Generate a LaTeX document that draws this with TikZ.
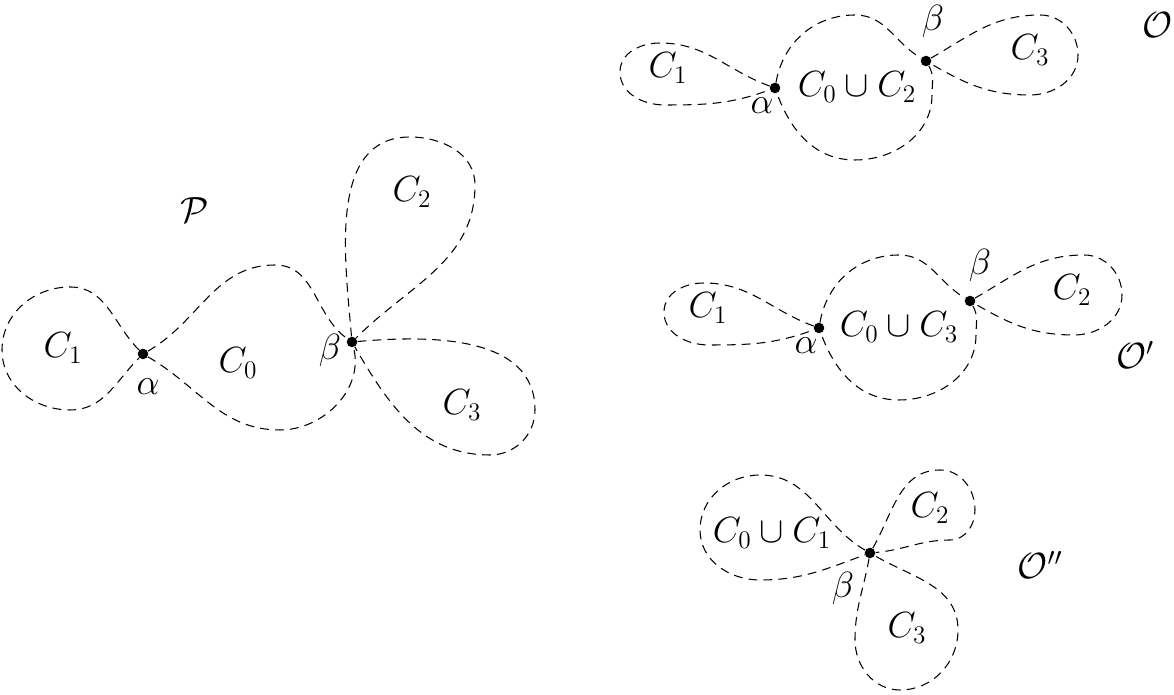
\documentclass[tikz,border=0pt]{standalone}
\usepackage{amssymb}
\begin{document}
\begin{tikzpicture}[x=0.02cm, y=0.02cm, font=\huge,
    pt/.style={circle, fill, inner sep=0pt, minimum size=6pt},
    loop/.style={dash pattern=on 5pt off 3.5pt, semithick}]
        \useasboundingbox (0,0) rectangle (1174,695);
        % P
        \node[pt] at (143,341) (a) {};
        \node[pt] at (352,353) (b) {};
        \draw[loop] (a) to[out=135,in=0] (70,408) to[out=180,in=90] (2,345) to[out=-90,in=180] (70,285) to[out=0,in=-135] (a);
        \draw[loop] (a) to[out=30,in=180] (275,430) to[out=0,in=145] (b);
        \draw[loop] (a) to[out=-30,in=180] (280,265) to[out=0,in=-75] (b);
        \draw[loop] (b) to[out=95,in=180] (410,558) to[out=0,in=90] (475,510) to[out=-90,in=45] (b);
        \draw[loop] (b) to[out=5,in=90] (535,285) to[out=-90,in=0] (490,240) to[out=180,in=-60] (b);
        \node at (63,347) (c1) {$C_1$};
        \node at (238,332) (c0) {$C_0$};
        \node at (412,503) (c2) {$C_2$};
        \node at (462,290) (c3) {$C_3$};
        \node at (195,485) (p) {$\mathcal{P}$};
        \node at (148,308) (al) {$\alpha$};
        \node at (330,345) (be) {$\beta$};

        % O
        \node[pt] at (775,607) (oa) {};
        \node[pt] at (926,634) (ob) {};
        \draw[loop] (oa) to[out=160,in=0] (660,652) to[out=180,in=90] (620,623) to[out=-90,in=180] (665,590) to[out=0,in=-160] (oa);
        \draw[loop] (oa) to[out=80,in=180] (855,680) to[out=0,in=150] (ob) to[out=-60,in=90] (932,600) to[out=-90,in=0] (855,535) to[out=180,in=-70] (oa);
        \draw[loop] (ob) to[out=30,in=180] (1040,680) to[out=0,in=90] (1078,640) to[out=-90,in=0] (1030,600) to[out=180,in=-30] (ob);
        \node at (668,627) (oc1) {$C_1$};
        \node at (857,608) (oc0) {$C_0\cup C_2$};
        \node at (1030,645) (oc3) {$C_3$};
        \node at (933,674) (obe) {$\beta$};
        \node at (762,589) (oal) {$\alpha$};
        \node at (1158,670) (o) {$\mathcal{O}$};

        % O'
        \begin{scope}[shift={(44,-240)}]
        \node[pt] at (775,607) (qa) {};
        \node[pt] at (926,634) (qb) {};
        \draw[loop] (qa) to[out=160,in=0] (660,652) to[out=180,in=90] (620,623) to[out=-90,in=180] (665,590) to[out=0,in=-160] (qa);
        \draw[loop] (qa) to[out=80,in=180] (855,680) to[out=0,in=150] (qb) to[out=-60,in=90] (932,600) to[out=-90,in=0] (855,535) to[out=180,in=-70] (qa);
        \draw[loop] (qb) to[out=30,in=180] (1040,680) to[out=0,in=90] (1078,640) to[out=-90,in=0] (1030,600) to[out=180,in=-30] (qb);
        \node at (664,627) (qc1) {$C_1$};
        \node at (855,608) (qc0) {$C_0\cup C_3$};
        \node at (1028,645) (qc2) {$C_2$};
        \node at (936,670) (qbe) {$\beta$};
        \node at (762,589) (qal) {$\alpha$};
        \node at (1091,580) (q) {$\mathcal{O}'$};
        \end{scope}

        % O''
        \node[pt] at (870,142) (rb) {};
        \draw[loop] (rb) to[out=150,in=0] (760,220) to[out=180,in=90] (700,165) to[out=-90,in=180] (760,115) to[out=0,in=-160] (rb);
        \draw[loop] (rb) to[out=60,in=180] (940,225) to[out=0,in=90] (975,185) to[out=-90,in=0] (950,155) to[out=180,in=5] (rb);
        \draw[loop] (rb) to[out=-100,in=90] (855,55) to[out=-90,in=180] (900,5) to[out=0,in=-90] (958,65) to[out=90,in=-30] (rb);
        \node at (772,162) (rc0) {$C_0\cup C_1$};
        \node at (930,187) (rc2) {$C_2$};
        \node at (907,67) (rc3) {$C_3$};
        \node at (843,107) (rbe) {$\beta$};
        \node at (1040,130) (r) {$\mathcal{O}''$};
\end{tikzpicture}
\end{document}
